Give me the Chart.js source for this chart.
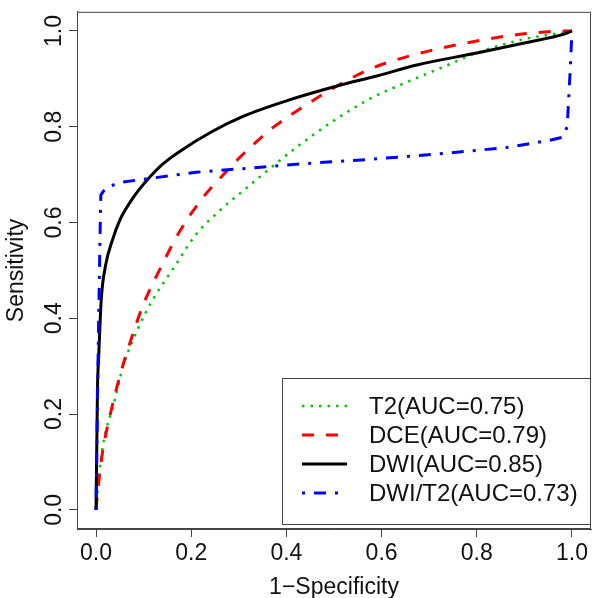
<!DOCTYPE html>
<html>
<head>
<meta charset="utf-8">
<script src="https://cdn.jsdelivr.net/npm/chart.js@4.4.0/dist/chart.umd.min.js"></script>
<style>
  body { margin: 0; background: #fff; }
  #wrap { width: 603px; height: 598px; }
</style>
</head>
<body>
<div id="wrap"><canvas id="rocChart"></canvas></div>
<script>
// axis ticks
const tickValues = [0, 0.2, 0.4, 0.6, 0.8, 1.0];

// legend labels
const seriesLabels = ['T2(AUC=0.75)', 'DCE(AUC=0.79)', 'DWI(AUC=0.85)', 'DWI/T2(AUC=0.73)'];

// ROC curves: 1-specificity / sensitivity
const t2Fpr = [0, 0.005, 0.016, 0.037, 0.057, 0.089, 0.117, 0.163, 0.21, 0.26, 0.31, 0.362, 0.425, 0.494, 0.577, 0.66, 0.73, 0.80, 0.90, 0.99, 1];
const t2Tpr = [0, 0.06, 0.143, 0.22, 0.30, 0.38, 0.435, 0.505, 0.575, 0.625, 0.667, 0.71, 0.76, 0.809, 0.859, 0.896, 0.925, 0.954, 0.983, 0.998, 1];

const dceFpr = [0, 0.003, 0.013, 0.030, 0.051, 0.072, 0.099, 0.136, 0.175, 0.223, 0.28, 0.30, 0.369, 0.439, 0.508, 0.577, 0.667, 0.80, 0.90, 0.99, 1];
const dceTpr = [0, 0.033, 0.116, 0.20, 0.283, 0.351, 0.428, 0.506, 0.58, 0.65, 0.713, 0.734, 0.796, 0.844, 0.886, 0.921, 0.95, 0.979, 0.994, 1.0, 1];

const dwiFpr = [0, 0.003, 0.006, 0.011, 0.02, 0.036, 0.05, 0.072, 0.09, 0.113, 0.14, 0.175, 0.244, 0.31, 0.40, 0.51, 0.59, 0.674, 0.80, 0.90, 0.985, 1];
const dwiTpr = [0, 0.25, 0.33, 0.44, 0.51, 0.568, 0.605, 0.643, 0.668, 0.695, 0.722, 0.748, 0.79, 0.822, 0.854, 0.886, 0.906, 0.929, 0.954, 0.975, 0.994, 1];

const comboFpr = [0, 0.004, 0.008, 0.01, 0.02, 0.051, 0.113, 0.21, 0.314, 0.439, 0.577, 0.73, 0.867, 0.95, 0.98, 0.99, 0.996, 1];
const comboTpr = [0, 0.3, 0.55, 0.657, 0.672, 0.684, 0.692, 0.705, 0.713, 0.723, 0.732, 0.744, 0.757, 0.771, 0.778, 0.80, 0.913, 1];

const toPoints = (xs, ys) => xs.map((x, i) => ({ x: x, y: ys[i] }));

const FONT = 'Arial, "Liberation Sans", sans-serif';

// R style box round the plot region
const boxPlugin = {
  id: 'plotBox',
  afterDatasetsDraw(chart) {
    const { ctx, chartArea: a } = chart;
    ctx.save();
    ctx.strokeStyle = '#444';
    ctx.lineWidth = 1;
    ctx.strokeRect(a.left + 0.5, a.top + 0.5, a.right - a.left - 1, a.bottom - a.top - 1);
    ctx.restore();
  }
};

// boxed legend in the bottom right of the plot, like legend("bottomright")
const insetLegend = {
  id: 'insetLegend',
  afterDraw(chart) {
    const { ctx, chartArea: a } = chart;
    const w = 308, h = 146;
    const x0 = a.right - w - 1, y0 = a.bottom - h - 5;
    ctx.save();
    ctx.fillStyle = '#fff';
    ctx.fillRect(x0, y0, w, h);
    ctx.strokeStyle = '#444';
    ctx.lineWidth = 1;
    ctx.strokeRect(x0 + 0.5, y0 + 0.5, w, h);
    chart.data.datasets.forEach((ds, i) => {
      const y = y0 + 28 + i * 29;
      ctx.beginPath();
      ctx.strokeStyle = ds.borderColor;
      ctx.lineWidth = ds.borderWidth;
      ctx.setLineDash(ds.borderDash || []);
      ctx.moveTo(x0 + 20, y);
      ctx.lineTo(x0 + 65, y);
      ctx.stroke();
      ctx.setLineDash([]);
      ctx.fillStyle = '#111';
      ctx.font = '24px ' + FONT;
      ctx.textBaseline = 'middle';
      ctx.textAlign = 'left';
      ctx.fillText(ds.label, x0 + 87, y + 1);
    });
    ctx.restore();
  }
};

const fixTicks = scale => { scale.ticks = tickValues.map(v => ({ value: v })); };

new Chart(document.getElementById('rocChart'), {
  type: 'line',
  data: {
    datasets: [
      {
        label: seriesLabels[0],
        data: toPoints(t2Fpr, t2Tpr),
        borderColor: '#00c800',
        borderWidth: 2.5,
        borderDash: [2.5, 6],
        cubicInterpolationMode: 'monotone',
        pointRadius: 0,
        order: 4
      },
      {
        label: seriesLabels[1],
        data: toPoints(dceFpr, dceTpr),
        borderColor: '#ff0000',
        borderWidth: 3,
        borderDash: [12, 12],
        cubicInterpolationMode: 'monotone',
        pointRadius: 0,
        order: 3
      },
      {
        label: seriesLabels[2],
        data: toPoints(dwiFpr, dwiTpr),
        borderColor: '#000000',
        borderWidth: 3,
        cubicInterpolationMode: 'monotone',
        pointRadius: 0,
        order: 2
      },
      {
        label: seriesLabels[3],
        data: toPoints(comboFpr, comboTpr),
        borderColor: '#0000ff',
        borderWidth: 3,
        borderDash: [3, 9, 12, 9],
        tension: 0,
        pointRadius: 0,
        order: 1
      }
    ]
  },
  options: {
    responsive: true,
    maintainAspectRatio: false,
    animation: false,
    layout: { padding: { top: 7, right: 12, left: 0, bottom: 0 } },
    plugins: {
      legend: { display: false },
      tooltip: { enabled: false }
    },
    scales: {
      x: {
        type: 'linear',
        min: -0.04,
        max: 1.04,
        afterBuildTicks: fixTicks,
        afterFit: s => { s.height = 69; },
        grid: { drawOnChartArea: false, drawTicks: true, tickLength: 8, color: '#444' },
        border: { display: true, color: '#444' },
        ticks: {
          color: '#111',
          font: { family: FONT, size: 23 },
          padding: 3,
          maxRotation: 0,
          callback: v => v.toFixed(1)
        },
        title: {
          display: true,
          text: '1\u2212Specificity',
          color: '#111',
          font: { family: FONT, size: 23 },
          padding: { top: 0, bottom: -3 }
        }
      },
      y: {
        type: 'linear',
        min: -0.04,
        max: 1.04,
        afterBuildTicks: fixTicks,
        afterFit: s => { s.width = 77; },
        grid: { drawOnChartArea: false, drawTicks: true, tickLength: 8, color: '#444' },
        border: { display: true, color: '#444' },
        ticks: {
          color: '#111',
          font: { family: FONT, size: 23 },
          padding: -2,
          minRotation: 90,
          maxRotation: 90,
          crossAlign: 'center',
          callback: v => v.toFixed(1)
        },
        title: {
          display: true,
          text: 'Sensitivity',
          color: '#111',
          font: { family: FONT, size: 23 },
          padding: { top: 3, bottom: 0 }
        }
      }
    }
  },
  plugins: [boxPlugin, insetLegend]
});
</script>
</body>
</html>
